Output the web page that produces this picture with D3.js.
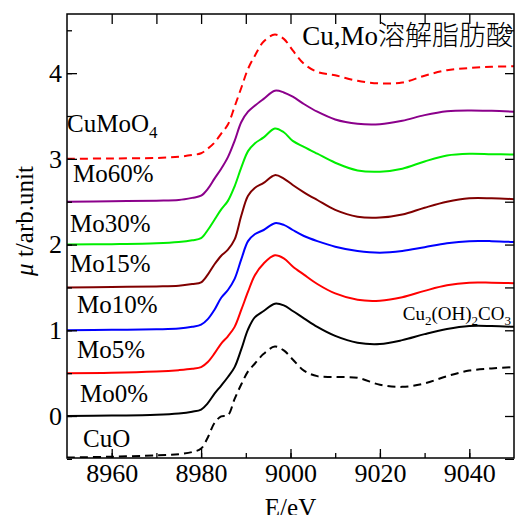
<!DOCTYPE html>
<html>
<head>
<meta charset="utf-8">
<script src="https://cdn.jsdelivr.net/npm/d3@7"></script>
<style>
  body { margin: 0; background: #fff; }
  svg text { font-family: "Liberation Serif", "Times New Roman", serif; }
</style>
</head>
<body>
<div id="my_xanes"></div>
<script>

// ======================= //
// DATA
// ======================= //

// energy grid (eV)
var energy = [8950, 8960, 8970, 8975, 8978, 8980, 8981.5, 8983, 8984.5, 8986, 8987.5, 8989, 8990.5, 8992, 8994,
              8996.5, 8998.5, 9000.5, 9003, 9006, 9010, 9015, 9020, 9025, 9030, 9035, 9040, 9045, 9050]

// sample names, top to bottom
var samples = ["CuMoO4", "Mo60%", "Mo30%", "Mo15%", "Mo10%", "Mo5%", "Mo0%", "CuO"]

// vertical offset of each spectrum
var offsets = [3, 2.5, 2, 1.5, 1, 0.5, 0, -0.5]

// normalised absorption (before offset)
var muCuMoO4 = [0, .005, .01, .025, .045, .065, .12, .19, .295, .40, .61, .83, 1.05, 1.2, 1.37,
                1.45, 1.40, 1.265, 1.11, 1.015, .975, .91, .88, .89, .97, 1.035, 1.06, 1.075, 1.08]
var muMo60 = [0, .005, .012, .02, .045, .07, .15, .27, .385, .52, .71, .93, 1.05, 1.12, 1.2,
              1.295, 1.275, 1.225, 1.14, 1.05, .96, .91, .905, .945, 1.01, 1.055, 1.065, 1.06, 1.05]
var muMo30 = [0, .005, .015, .03, .05, .075, .17, .29, .41, .51, .68, .9, 1.09, 1.18, 1.25,
              1.355, 1.31, 1.21, 1.14, 1.06, .955, .865, .85, .885, .97, 1.04, 1.06, 1.055, 1.05]
var muMo15 = [0, .005, .012, .02, .04, .06, .15, .27, .37, .44, .56, .84, 1.07, 1.16, 1.22,
              1.31, 1.27, 1.195, 1.11, 1.02, .905, .825, .815, .85, .93, 1.0, 1.04, 1.04, 1.03]
var muMo10 = [0, .005, .012, .02, .04, .065, .13, .24, .38, .47, .6, .83, 1.04, 1.12, 1.17,
              1.25, 1.23, 1.17, 1.10, 1.04, .975, .925, .905, .925, .97, 1.015, 1.04, 1.04, 1.03]
var muMo5 = [0, .005, .02, .035, .05, .07, .13, .23, .345, .43, .54, .74, .95, 1.14, 1.28,
             1.375, 1.34, 1.245, 1.15, 1.04, .93, .855, .845, .885, .96, 1.025, 1.055, 1.055, 1.05]
var muMo0 = [0, .005, .015, .03, .05, .075, .15, .26, .355, .455, .57, .78, 1.01, 1.15, 1.225,
             1.31, 1.29, 1.225, 1.14, 1.04, .935, .855, .84, .885, .955, 1.015, 1.05, 1.05, 1.04]
var muCuO = [.015, .025, .04, .055, .08, .12, .25, .42, .495, .51, .70, .87, 1.02, 1.11, 1.225,
             1.31, 1.265, 1.16, 1.03, .965, .955, .945, .865, .84, .88, .965, 1.03, 1.055, 1.07]

var allMu = [muCuMoO4, muMo60, muMo30, muMo15, muMo10, muMo5, muMo0, muCuO]
var colors = ["#ff0000", "#8b008b", "#00ee00", "#800000", "#0000ff", "#ff0000", "#000000", "#000000"]
var dashed = [true, false, false, false, false, false, false, true]

// ticks
var xTicks = [8960, 8980, 9000, 9020, 9040]
var yTicks = [0, 1, 2, 3, 4]

// ======================= //
// SVG AREA
// ======================= //

var W = 517, H = 515
var plot = {left: 67, right: 514, top: 14, bottom: 458}

var svg = d3.select("#my_xanes")
  .append("svg")
    .attr("width", W)
    .attr("height", H)

var x = d3.scaleLinear()
  .domain([8950, 9050])
  .range([plot.left, plot.right])

var y = d3.scaleLinear()
  .domain([-0.49, 4.69])
  .range([plot.bottom, plot.top])

svg.append("clipPath")
    .attr("id", "clip")
  .append("rect")
    .attr("x", plot.left)
    .attr("y", plot.top)
    .attr("width", plot.right - plot.left)
    .attr("height", plot.bottom - plot.top)

// ======================= //
// SPECTRA
// ======================= //

var line = d3.line()
  .x(function(d) { return x(d[0]) })
  .y(function(d) { return y(d[1]) })
  .curve(d3.curveCatmullRom.alpha(0.5))

svg.append("g")
    .attr("clip-path", "url(#clip)")
  .selectAll("path")
  .data(allMu)
  .enter()
  .append("path")
    .attr("d", function(mu, i) {
      return line(energy.map(function(e, j) { return [e, mu[j] + offsets[i]] }))
    })
    .attr("fill", "none")
    .attr("stroke", function(d, i) { return colors[i] })
    .attr("stroke-width", 2)
    .style("stroke-dasharray", function(d, i) { return dashed[i] ? "8,5" : null })

// ======================= //
// AXES (frame with inward ticks)
// ======================= //

var xMinor = d3.range(8960, 9050, 10)
var yMinor = d3.range(-0.5, 4.7, 0.5)

svg.append("g")
  .attr("transform", "translate(0," + plot.bottom + ")")
  .call(d3.axisBottom(x).tickValues(xMinor).tickSize(-5).tickFormat(""))
svg.append("g")
  .attr("class", "labelled")
  .attr("transform", "translate(0," + plot.bottom + ")")
  .call(d3.axisBottom(x).tickValues(xTicks).tickSize(-9).tickPadding(6).tickFormat(d3.format("d")))
svg.append("g")
  .attr("transform", "translate(0," + plot.top + ")")
  .call(d3.axisTop(x).tickValues(xMinor).tickSize(-10).tickFormat(""))
svg.append("g")
  .attr("transform", "translate(" + plot.left + ",0)")
  .call(d3.axisLeft(y).tickValues(yMinor).tickSize(-5).tickFormat(""))
svg.append("g")
  .attr("class", "labelled")
  .attr("transform", "translate(" + plot.left + ",0)")
  .call(d3.axisLeft(y).tickValues(yTicks).tickSize(-10).tickPadding(5).tickFormat(d3.format("d")))
svg.append("g")
  .attr("transform", "translate(" + plot.right + ",0)")
  .call(d3.axisRight(y).tickValues(yMinor).tickSize(-9).tickFormat(""))

svg.selectAll(".domain").remove()
svg.selectAll(".labelled")
  .attr("font-family", "Liberation Serif")
  .attr("font-size", 26)
svg.selectAll(".tick line").attr("stroke", "#000").attr("stroke-width", 1.3)
svg.selectAll(".tick text").attr("fill", "#000")

svg.append("rect")
  .attr("x", plot.left)
  .attr("y", plot.top)
  .attr("width", plot.right - plot.left)
  .attr("height", plot.bottom - plot.top)
  .attr("fill", "none")
  .attr("stroke", "#000")
  .attr("stroke-width", 1.5)

// axis titles
svg.append("text")
  .attr("x", x(9000))
  .attr("y", 516)
  .attr("text-anchor", "middle")
  .style("font-size", "25px")
  .text("E/eV")

var yTitle = svg.append("text")
  .attr("transform", "translate(33,221) rotate(-90)")
  .attr("text-anchor", "middle")
  .style("font-size", "25px")
yTitle.append("tspan").style("font-style", "italic").text("μ")
yTitle.append("tspan").text(" t/arb.unit")

// ======================= //
// LABELS
// ======================= //

// label anchor (dx from left frame in px, y in data units)
var labelDx = [0, 6, 3, 3, 10, 10, 13, 16]
var labelY = [3.31, 2.73, 2.15, 1.68, 1.20, 0.68, 0.16, -0.36]

svg.selectAll("sampleLabel")
  .data(samples)
  .enter()
  .append("text")
    .attr("x", function(d, i) { return plot.left + labelDx[i] })
    .attr("y", function(d, i) { return y(labelY[i]) })
    .style("font-size", "25px")
    .each(function(d) {
      var t = d3.select(this)
      if (d == "CuMoO4") {
        t.append("tspan").text("CuMoO")
        t.append("tspan").attr("dy", 6).style("font-size", "17px").text("4")
      } else {
        t.text(d)
      }
    })

// Cu2(OH)2CO3 reference label
var mal = svg.append("text")
  .attr("x", 511)
  .attr("y", 320)
  .attr("text-anchor", "end")
  .style("font-size", "19px")
var malParts = [["Cu", 0], ["2", 1], ["(OH)", 0], ["2", 1], ["CO", 0], ["3", 1]]
malParts.forEach(function(p, i) {
  var prev = i > 0 ? malParts[i - 1][1] : 0
  mal.append("tspan")
    .attr("dy", (p[1] - prev) * 5)
    .style("font-size", p[1] ? "13px" : "19px")
    .text(p[0])
})

// title
svg.append("text")
  .attr("x", 513)
  .attr("y", 45)
  .attr("text-anchor", "end")
  .style("font-size", "27px")
  .each(function() {
    var t = d3.select(this)
    t.append("tspan").text("Cu,Mo")
    t.append("tspan").style("font-family", "Noto Sans CJK JP").style("font-weight", 300).text("溶解脂肪酸")
  })

</script>
</body>
</html>
